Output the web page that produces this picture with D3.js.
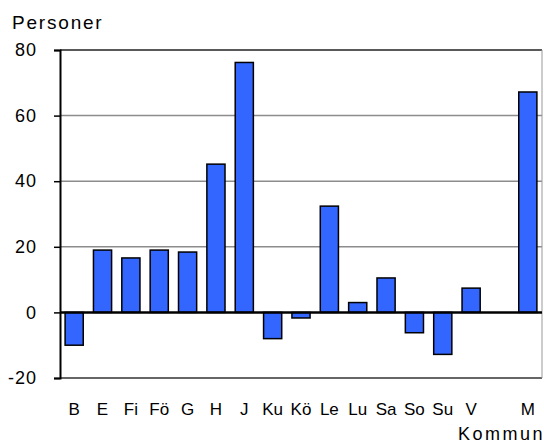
<!DOCTYPE html>
<html><head><meta charset="utf-8">
<script src="https://cdn.jsdelivr.net/npm/d3@7"></script>
<style>body{margin:0;background:#fff}svg{display:block}text{font-family:"Liberation Sans",Arial,sans-serif;fill:#000}</style>
</head><body>
<script>
const categories = ["B","E","Fi","Fö","G","H","J","Ku","Kö","Le","Lu","Sa","So","Su","V","","M"];
const values = [-10,19,16.6,19,18.4,45.2,76.2,-8,-1.7,32.4,3,10.5,-6.2,-12.8,7.4,null,67.2];
const yTicks = [-20,0,20,40,60,80];
const yLabel = "Personer";
const xLabel = "Kommun";

const W=544,H=443;
const m={l:60,r:2,t:50,b:65};
const svg=d3.select("body").append("svg").attr("width",W).attr("height",H);
const x=d3.scaleBand().domain(categories.map((c,i)=>i)).range([m.l,W-m.r]).paddingInner(0.36).paddingOuter(0.18);
const y=d3.scaleLinear().domain([-20,80]).range([H-m.b,m.t]);

// gridlines
svg.append("g").selectAll("line").data(yTicks.filter(t=>t!==0&&t!==-20&&t!==80)).join("line")
 .attr("x1",m.l).attr("x2",W-m.r).attr("y1",d=>y(d)).attr("y2",d=>y(d)).attr("stroke","#8c8c8c").attr("stroke-width",1.5);
// frame
svg.append("line").attr("x1",m.l).attr("x2",W-m.r).attr("y1",y(80)).attr("y2",y(80)).attr("stroke","#222").attr("stroke-width",1.5);
svg.append("line").attr("x1",m.l).attr("x2",W-m.r).attr("y1",y(-20)).attr("y2",y(-20)).attr("stroke","#333").attr("stroke-width",1.5);
svg.append("line").attr("x1",W-m.r).attr("x2",W-m.r).attr("y1",y(80)).attr("y2",y(-20)).attr("stroke","#999").attr("stroke-width",1);

// bars
svg.append("g").selectAll("rect").data(values.map((v,i)=>({v,i})).filter(d=>d.v!==null)).join("rect")
 .attr("x",d=>x(d.i)).attr("width",x.bandwidth())
 .attr("y",d=>y(Math.max(0,d.v))).attr("height",d=>Math.abs(y(d.v)-y(0)))
 .attr("fill","#3366FF").attr("stroke","#000").attr("stroke-width",1.5);

// zero line
svg.append("line").attr("x1",m.l).attr("x2",W-m.r).attr("y1",y(0)).attr("y2",y(0)).attr("stroke","#000").attr("stroke-width",2.5);

// y axis
const ya=svg.append("g").attr("transform",`translate(${m.l},0)`).call(d3.axisLeft(y).tickValues(yTicks).tickSize(6).tickPadding(17).tickFormat(d=>String(d)));
ya.select(".domain").attr("stroke","#000").attr("stroke-width",2);
ya.selectAll(".tick line").attr("stroke","#000").attr("stroke-width",1.5);
ya.selectAll("text").attr("font-size",18).attr("letter-spacing",1).attr("font-family","Liberation Sans, Arial, sans-serif");

// x labels
svg.append("g").selectAll("text").data(categories.map((c,i)=>({c,i}))).join("text")
 .attr("x",d=>x(d.i)+x.bandwidth()/2).attr("y",415).attr("text-anchor","middle").attr("font-size",17).text(d=>d.c);

svg.append("text").attr("x",12).attr("y",29).attr("font-size",19).attr("letter-spacing",1.8).text(yLabel);
svg.append("text").attr("x",W+1).attr("y",440).attr("text-anchor","end").attr("font-size",18).attr("letter-spacing",2.5).text(xLabel);
</script>
</body></html>
